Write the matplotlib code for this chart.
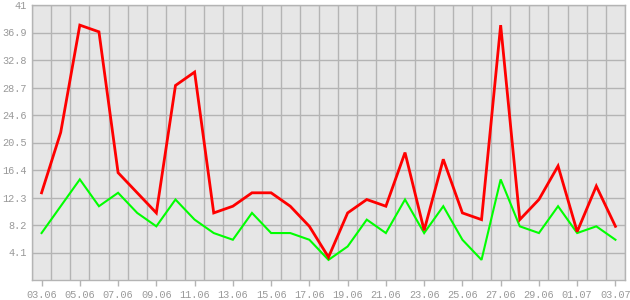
import matplotlib
matplotlib.use("Agg")
import matplotlib.pyplot as plt
from matplotlib.ticker import FixedLocator, NullFormatter

dates = ["03.06", "04.06", "05.06", "06.06", "07.06", "08.06", "09.06", "10.06",
         "11.06", "12.06", "13.06", "14.06", "15.06", "16.06", "17.06", "18.06",
         "19.06", "20.06", "21.06", "22.06", "23.06", "24.06", "25.06", "26.06",
         "27.06", "28.06", "29.06", "30.06", "01.07", "02.07", "03.07"]
red_values = [13, 22, 38, 37, 16, 13, 10, 29, 31, 10, 11, 13, 13, 11, 8, 3.4,
              10, 12, 11, 19, 7.4, 18, 10, 9, 38, 9, 12, 17, 7.2, 14, 8]
green_values = [7, 11, 15, 11, 13, 10, 8, 12, 9, 7, 6, 10, 7, 7, 6, 3,
                5, 9, 7, 12, 7, 11, 6, 3, 15, 8, 7, 11, 7, 8, 6]
y_ticks = [4.1, 8.2, 12.3, 16.4, 20.5, 24.6, 28.7, 32.8, 36.9, 41]
y_tick_labels = ["4.1", "8.2", "12.3", "16.4", "20.5", "24.6", "28.7", "32.8", "36.9", "41"]

W, H = 630, 300
fig = plt.figure(figsize=(W / 100, H / 100), dpi=100, facecolor="white")
ax = fig.add_axes([32 / W, 20 / H, 593 / W, 275 / H])
ax.set_facecolor("#e6e6e6")

x = list(range(len(dates)))
ax.plot(x, green_values, color="#00ff00", lw=1.5, zorder=3, solid_joinstyle="miter")
ax.plot(x, red_values, color="#ff0000", lw=2.0, zorder=4, solid_joinstyle="miter")

ax.set_xlim(-0.5, len(dates) - 0.5)
ax.set_ylim(0, 41)

grid_color = "#b4b4b4"
ax.set_yticks(y_ticks)
ax.set_yticklabels(y_tick_labels)
ax.set_xticks(x[::2])
ax.set_xticklabels(dates[::2])
ax.xaxis.set_minor_locator(FixedLocator([k + 0.5 for k in range(-1, len(dates))]))
ax.xaxis.set_minor_formatter(NullFormatter())

ax.grid(False)
ax.grid(True, which="minor", axis="x", color=grid_color, lw=1.0, zorder=1)
ax.grid(True, which="major", axis="y", color=grid_color, lw=1.0, zorder=1)
ax.set_axisbelow(True)

ax.tick_params(axis="x", which="major", length=4, width=1, color=grid_color,
               labelsize=7.4, labelcolor="#999999", pad=3)
ax.tick_params(axis="x", which="minor", length=0)
ax.tick_params(axis="y", which="major", length=0, labelsize=7.4,
               labelcolor="#999999", pad=4)
for lab in ax.get_xticklabels() + ax.get_yticklabels():
    lab.set_family("Liberation Mono")

for s in ax.spines.values():
    s.set_color(grid_color)
    s.set_linewidth(1.0)

fig.savefig("out.png", dpi=100, facecolor="white")
